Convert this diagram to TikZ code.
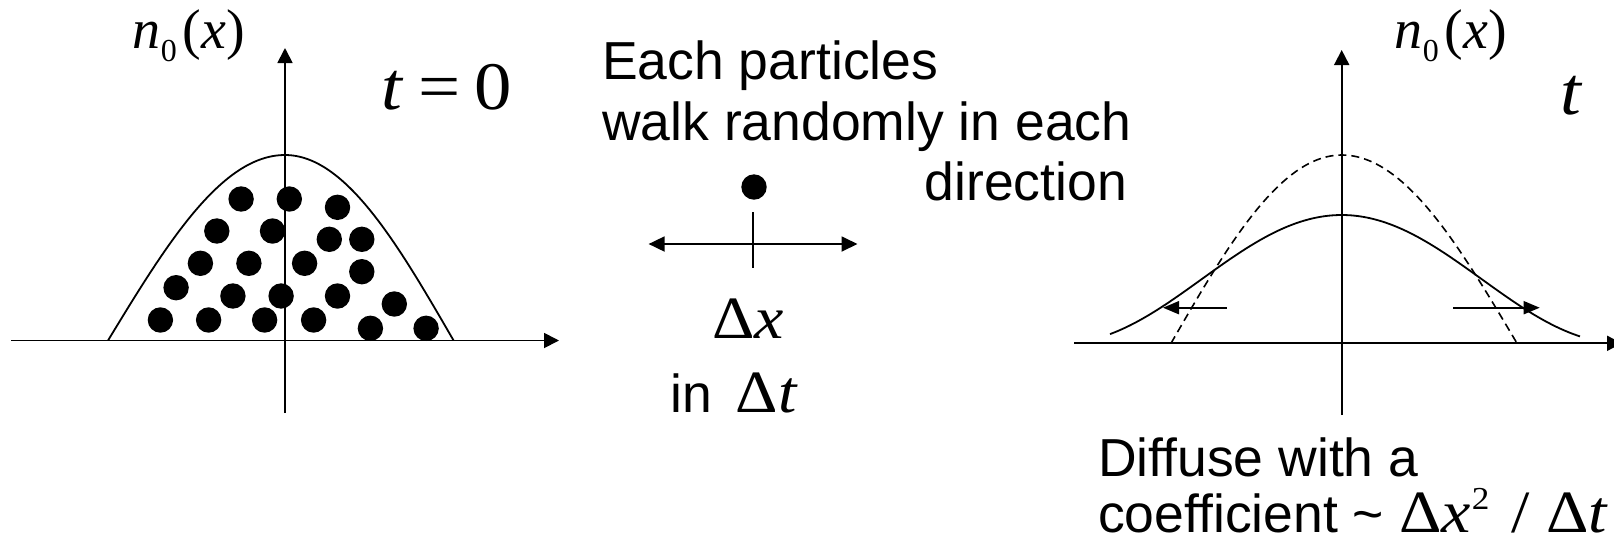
\documentclass[tikz,border=0pt]{standalone}
\usepackage{fontspec}
\setmainfont{Liberation Sans}
\newfontfamily\tms{Liberation Serif}
\usetikzlibrary{arrows.meta}
\newcommand{\sansbig}{\fontsize{53.5}{60}\selectfont}
\newcommand{\mathbig}{\tms\fontsize{60}{60}\selectfont}
\newcommand{\wide}[1]{\scalebox{1.1}[1]{#1}}
\newcommand{\nzero}{{\tms\fontsize{56}{56}\selectfont\textit{n}\raisebox{-13.5pt}{\fontsize{32}{32}\selectfont 0}\hspace{6pt}(\textit{x})}}
\begin{document}
\begin{tikzpicture}[x=1pt,y=-1pt,
  ax/.style={line width=1.8pt,-{Triangle[length=15pt,width=15pt]}},
  crv/.style={line width=1.8pt},
  dcrv/.style={line width=1.6pt,dash pattern=on 8pt off 5pt},
  dbl/.style={line width=1.8pt,{Triangle[length=16pt,width=15pt]}-{Triangle[length=16pt,width=15pt]}},
  sarr/.style={line width=1.8pt,-{Triangle[length=16pt,width=13pt]}},
  lbl/.style={inner sep=0pt,font=\sansbig},
  mth/.style={inner sep=0pt,font=\mathbig},
  particle/.style={circle,fill=black,inner sep=0pt,minimum size=25.4pt}]
\path[fill=white,use as bounding box] (0,0) rectangle (1614,542);

% ---------- left panel ----------
\coordinate (LxS) at (11,340.5);
\coordinate (LxE) at (559,340.5);
\coordinate (LyS) at (285,413);
\coordinate (LyE) at (285,48);
\draw[ax] (LxS) -- (LxE);
\draw[ax] (LyS) -- (LyE);
\draw[crv] plot[domain=108:285,samples=60] (\x,{340.5-185.5*cos((285-\x)*0.50847)})
  -- plot[domain=285:453.6,samples=60] (\x,{340.5-185.5*cos((\x-285)*0.53381)});
\foreach \px/\py [count=\i] in {241.1/199,289.3/199,337.5/207.3,
  216.8/231,272.5/231,329.3/239.3,361.8/239.3,
  200.4/263.3,248.9/263.3,304.6/263.3,361.8/271.7,
  176.1/287.7,232.9/296,281.1/296,337.5/296,394.3/304,
  160.4/320,208.6/320,264.6/320,313.6/320,370.4/328.3,426.1/328.3}
  \node[particle] (p\i) at (\px,\py) {};
\node[inner sep=0pt,anchor=base] (Ln) at (189,48.3) {\nzero};
\node[inner sep=0pt,anchor=base west] (Lt) at (381,109)
  {\tms\fontsize{68}{68}\selectfont\wide{\textit{t}\hspace{14pt}=\hspace{12pt}0}};

% ---------- middle ----------
\node[lbl,anchor=base west] (l1) at (602,79.3) {Each particles};
\node[lbl,anchor=base west] (l2) at (602,140) {walk randomly in each};
\node[lbl,anchor=base east] (l3) at (1127,200.7) {direction};
\node[particle] (dot) at (754,187) {};
\coordinate (MyS) at (753,212);
\coordinate (MyE) at (753,268);
\coordinate (MxS) at (648.6,244);
\coordinate (MxE) at (857.5,244);
\draw[line width=1.8pt] (MyS) -- (MyE);
\draw[dbl] (MxS) -- (MxE);
\node[mth,anchor=base] (dx) at (748,338.3) {\wide{Δ\textit{x}}};
\node[inner sep=0pt,anchor=base west] (int) at (670,412)
  {\sansbig in\hspace{24pt}{\mathbig\wide{Δ\textit{t}}}};

% ---------- right panel ----------
\coordinate (RxS) at (1074,343.3);
\coordinate (RxE) at (1622,343.3);
\coordinate (RyS) at (1341.7,415);
\coordinate (RyE) at (1341.7,50);
\draw[ax] (RxS) -- (RxE);
\draw[ax] (RyS) -- (RyE);
\draw[crv] plot[domain=1110:1580,samples=120]
  (\x,{343.3-64.15*(1+cos((\x-1341.7)*0.642857))});
\draw[dcrv] plot[domain=1171:1341.7,samples=60] (\x,{343.3-188.3*cos((1341.7-\x)*0.52724)})
  -- plot[domain=1341.7:1517,samples=60] (\x,{343.3-188.3*cos((\x-1341.7)*0.51341)});
\coordinate (RaLs) at (1226.7,307.7);
\coordinate (RaLe) at (1163,307.7);
\coordinate (RaRs) at (1453,307.7);
\coordinate (RaRe) at (1539.7,307.7);
\draw[sarr] (RaLs) -- (RaLe);
\draw[sarr] (RaRs) -- (RaRe);
\node[inner sep=0pt,anchor=base] (Rn) at (1451,48.3) {\nzero};
\node[inner sep=0pt,anchor=base] (Rt) at (1572,114)
  {\tms\fontsize{68}{68}\selectfont\wide{\textit{t}}};
\node[lbl,anchor=base west] (d1) at (1098,476.7) {Diffuse with a};
\node[inner sep=0pt,anchor=base west] (d2) at (1098,532)
  {\sansbig coefficient \textasciitilde\ {\mathbig\wide{Δ\textit{x}\hspace{1pt}\raisebox{23pt}{\fontsize{32}{32}\selectfont 2}\hspace{20pt}/\hspace{15pt}Δ\textit{t}}}};
\end{tikzpicture}
\end{document}
